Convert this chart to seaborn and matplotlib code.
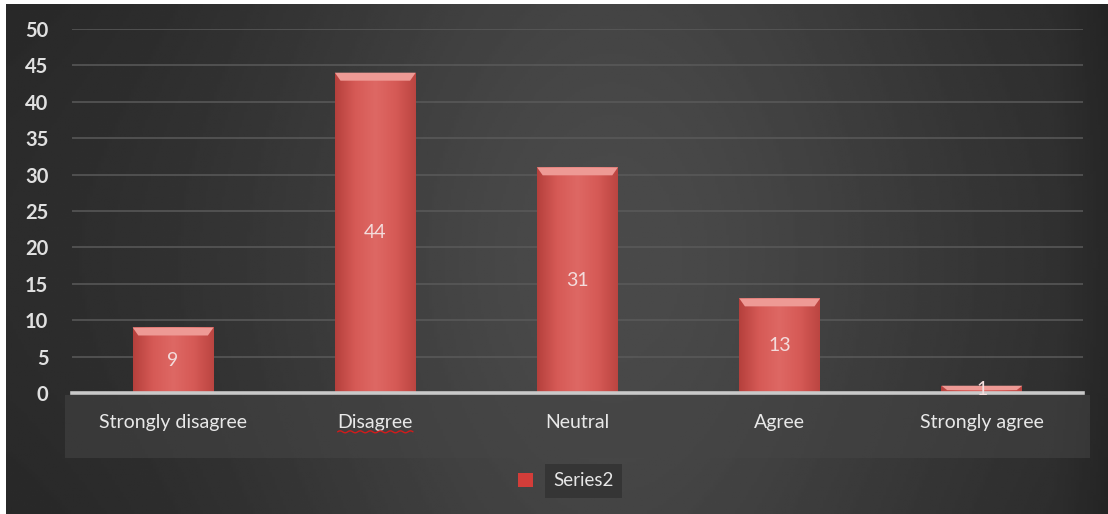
import numpy as np
import matplotlib
matplotlib.use("Agg")
import matplotlib.pyplot as plt
import matplotlib.patches as mpatches
from matplotlib.colors import LinearSegmentedColormap
import seaborn as sns

categories = ["Strongly disagree", "Disagree", "Neutral", "Agree", "Strongly agree"]
values = [9, 44, 31, 13, 1]
series_name = "Series2"
y_ticks = [0, 5, 10, 15, 20, 25, 30, 35, 40, 45, 50]

sns.set_theme(style="dark")
plt.rcParams["font.family"] = ["Lato", "DejaVu Sans"]

W, H, DPI = 1108, 514, 100
fig = plt.figure(figsize=(W / DPI, H / DPI), dpi=DPI)
fig.patch.set_facecolor("white")

# dark backdrop with a soft horizontal sheen, leaving a thin white margin top/left
bg = fig.add_axes([6 / W, 0, 1 - 6 / W, 1 - 4 / H], zorder=-10)
xs = np.linspace(0, 1, 400)
prof = 0.165 + 0.125 * np.exp(-((xs - 0.55) / 0.33) ** 2)
prof[-20:] *= np.linspace(1, 0.85, 20)
ys = np.linspace(0, 1, 200)[:, None]
img = prof[None, :] * (0.92 + 0.08 * np.sin(np.pi * ys))
bg.imshow(img, cmap="gray", vmin=0, vmax=1, aspect="auto", extent=[0, 1, 0, 1])
bg.set_axis_off()

# category label band
band = fig.add_axes([65 / W, 1 - 458 / H, (1090 - 65) / W, (458 - 395) / H], zorder=-5)
band.set_facecolor((0.27, 0.27, 0.27, 0.55))
band.set_xticks([]); band.set_yticks([])
for s in band.spines.values():
    s.set_visible(False)

ax = fig.add_axes([72 / W, 1 - 393 / H, (1083 - 72) / W, (393 - 29) / H])
ax.set_facecolor("none")

bar_color = "#cf514d"
sns.barplot(x=categories, y=values, color=bar_color, width=0.4, ax=ax,
            saturation=1, zorder=3)

ax.set_ylim(0, 50)
ax.set_xlim(-0.5, len(categories) - 0.5)
ax.set_yticks(y_ticks)
ax.set_ylabel("")
ax.set_xlabel("")
ax.grid(axis="y", color="#5a5a5a", linewidth=1.1, zorder=0)
ax.grid(axis="x", visible=False)
for name, s in ax.spines.items():
    s.set_visible(name == "bottom")
ax.spines["bottom"].set_color("#c9c9c9")
ax.spines["bottom"].set_linewidth(2.6)
ax.spines["bottom"].set_zorder(5)
ax.tick_params(axis="y", length=0, pad=17, labelsize=14.5, labelcolor="#e0e0e0")
ax.tick_params(axis="x", length=0, pad=15, labelsize=14, labelcolor="#e8e8e8")
for t in ax.get_yticklabels():
    t.set_fontweight("bold")

# shaded bar faces with a bevelled top edge
grad = LinearSegmentedColormap.from_list(
    "barface", ["#b5403c", "#d65a56", "#de6864", "#d65a56", "#bb4541"])
gx = np.linspace(0, 1, 256)[None, :]
for p, v in zip(ax.patches, values):
    x0, w, h = p.get_x(), p.get_width(), p.get_height()
    p.set_edgecolor("none")
    im = ax.imshow(gx, cmap=grad, aspect="auto", extent=[x0, x0 + w, 0, h],
                   zorder=3.5)
    im.set_clip_path(p)
    bev = min(1.1, h * 0.6)
    inset = w * 0.07
    top = mpatches.Polygon([[x0, h], [x0 + w, h], [x0 + w - inset, h - bev],
                            [x0 + inset, h - bev]], closed=True,
                           facecolor="#ee9a95", edgecolor="none", zorder=3.8)
    ax.add_patch(top)
    ax.text(x0 + w / 2, h / 2, f"{v}", ha="center", va="center",
            fontsize=14, color="#f3dcdc", zorder=6)
ax.set_xlim(-0.5, len(categories) - 0.5)
ax.set_ylim(0, 50)

# legend
handle = mpatches.Patch(facecolor="#d33d39", edgecolor="none", label=series_name)
leg = fig.legend(handles=[handle], loc="center", bbox_to_anchor=(566 / W, 1 - 481 / H),
                 frameon=False, fontsize=13.5, handlelength=0.75, handleheight=0.75,
                 handletextpad=1.1, labelcolor="#e6e6e6")
leg.get_texts()[0].set_bbox(dict(facecolor="#353535", edgecolor="none", pad=6))

# spell-check squiggle under the "Disagree" label
fig.canvas.draw()
lab = ax.get_xticklabels()[1]
bb = lab.get_window_extent()
sx = np.linspace(bb.x0, bb.x1, 60)
sy = bb.y0 - 1 + 1.0 * np.sin((sx - bb.x0) / 1.6)
fig.add_artist(plt.Line2D(sx / W, sy / H, color="#d01c1c", linewidth=1.0,
                          transform=fig.transFigure))

fig.savefig("out.png", dpi=DPI, facecolor=fig.get_facecolor())
